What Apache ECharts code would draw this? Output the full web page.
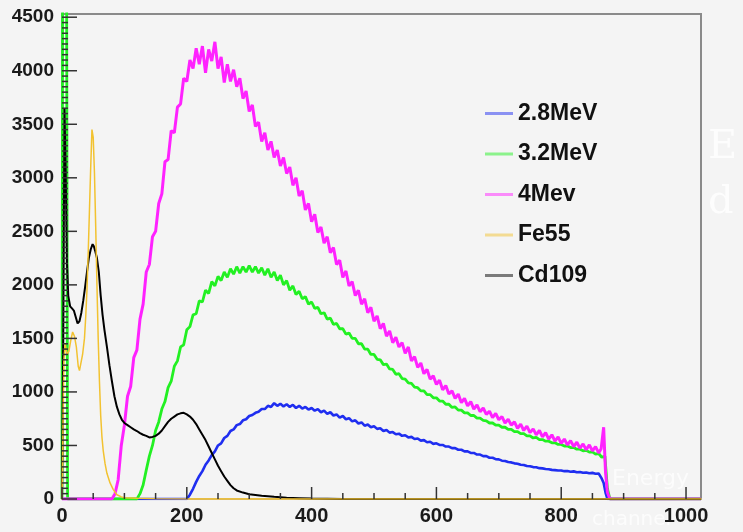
<!DOCTYPE html>
<html><head><meta charset="utf-8">
<script src="https://cdn.jsdelivr.net/npm/echarts@6/dist/echarts.min.js"></script>
<style>html,body{margin:0;padding:0;background:#f4f4f4}#c{width:743px;height:532px}</style>
</head><body><div id="c"></div>
<script>
const seriesNames = ['2.8MeV', '3.2MeV', '4Mev', 'Fe55', 'Cd109'];
const xTicks = [0, 200, 400, 600, 800, 1000];
const yTicks = [0, 500, 1000, 1500, 2000, 2500, 3000, 3500, 4000, 4500];

const mev28 = [[0,0],[200,0],[205,40],[210,95],[215,160],[220,215],[225,260],[230,320],[235,360],[240,410],[245,445],[250,500],[255,520],[260,570],[265,590],[270,635],[275,650],[280,690],[285,700],[290,735],[295,745],[300,775],[305,785],[310,805],[315,815],[320,840],[325,840],[330,870],[335,860],[340,895],[345,870],[350,890],[355,865],[360,885],[365,860],[370,880],[375,850],[380,870],[385,845],[390,860],[395,835],[400,850],[405,825],[410,840],[415,810],[420,825],[425,795],[430,810],[435,780],[440,790],[445,760],[450,775],[455,745],[460,755],[465,725],[470,735],[475,705],[480,715],[485,685],[490,695],[495,670],[500,680],[505,655],[510,660],[515,635],[520,645],[525,620],[530,625],[535,605],[540,610],[545,590],[550,595],[555,575],[560,580],[565,560],[570,565],[575,545],[580,550],[585,530],[590,535],[595,515],[600,520],[605,505],[610,505],[615,490],[620,490],[625,475],[630,475],[635,460],[640,460],[645,445],[650,445],[655,430],[660,430],[665,415],[670,415],[675,400],[680,400],[685,385],[690,385],[695,372],[700,370],[705,358],[710,355],[715,345],[720,342],[725,333],[730,330],[735,320],[740,318],[745,308],[750,306],[755,298],[760,296],[765,288],[770,286],[775,280],[780,278],[785,272],[790,270],[795,266],[800,266],[805,260],[810,262],[815,255],[820,258],[825,250],[830,252],[835,245],[840,248],[845,240],[850,244],[855,236],[860,238],[865,190],[868,150],[871,60],[874,0],[1024,0]];

const mev32 = [[0,0],[1,5000],[3,9000],[5,9000],[7,6000],[9,0],[120,0],[125,50],[130,130],[135,270],[140,400],[145,500],[150,640],[155,720],[160,840],[165,910],[170,1040],[175,1100],[180,1240],[185,1290],[190,1420],[195,1440],[200,1580],[205,1610],[210,1720],[215,1730],[220,1850],[225,1840],[230,1950],[235,1920],[240,2030],[245,1990],[250,2080],[255,2040],[260,2120],[265,2070],[270,2150],[275,2100],[280,2170],[285,2110],[290,2170],[295,2120],[300,2180],[305,2120],[310,2170],[315,2110],[320,2160],[325,2090],[330,2150],[335,2070],[340,2120],[345,2040],[350,2090],[355,2000],[360,2040],[365,1950],[370,1990],[375,1910],[380,1940],[385,1870],[390,1890],[395,1820],[400,1840],[405,1780],[410,1790],[415,1730],[420,1740],[425,1680],[430,1690],[435,1630],[440,1640],[445,1590],[450,1590],[455,1540],[460,1550],[465,1500],[470,1500],[475,1450],[480,1450],[485,1400],[490,1400],[495,1350],[500,1350],[505,1305],[510,1300],[515,1255],[520,1260],[525,1215],[530,1210],[535,1165],[540,1170],[545,1125],[550,1120],[555,1085],[560,1080],[565,1045],[570,1040],[575,1010],[580,1010],[585,975],[590,975],[595,945],[600,945],[605,915],[610,915],[615,885],[620,885],[625,855],[630,860],[635,830],[640,830],[645,805],[650,805],[655,780],[660,780],[665,755],[670,755],[675,735],[680,730],[685,710],[690,710],[695,690],[700,690],[705,670],[710,670],[715,650],[720,650],[725,630],[730,630],[735,610],[740,610],[745,590],[750,590],[755,570],[760,575],[765,555],[770,555],[775,540],[780,540],[785,525],[790,525],[795,510],[800,510],[805,495],[810,495],[815,480],[820,480],[825,465],[830,465],[835,450],[840,455],[845,438],[850,440],[855,420],[860,425],[865,390],[870,400],[874,100],[878,0],[1024,0]];

const mev4 = [[0,0],[80,0],[85,50],[90,180],[95,500],[100,690],[105,960],[110,1050],[115,1320],[120,1390],[125,1680],[130,1820],[135,2120],[140,2190],[145,2450],[150,2500],[155,2760],[160,2850],[165,3150],[170,3170],[175,3440],[180,3420],[185,3660],[190,3690],[195,3930],[200,3900],[205,4100],[210,4020],[215,4210],[220,4060],[225,4230],[230,3980],[235,4200],[240,4090],[245,4270],[250,4020],[255,4130],[260,3890],[265,4060],[270,3900],[275,4010],[280,3850],[285,3930],[290,3740],[295,3810],[300,3620],[305,3680],[310,3480],[315,3520],[320,3340],[325,3420],[330,3260],[335,3340],[340,3190],[345,3260],[350,3110],[355,3190],[360,3040],[365,3100],[370,2930],[375,3000],[380,2830],[385,2880],[390,2700],[395,2760],[400,2590],[405,2660],[410,2490],[415,2540],[420,2390],[425,2450],[430,2300],[435,2350],[440,2190],[445,2230],[450,2070],[455,2130],[460,1990],[465,2030],[470,1900],[475,1950],[480,1820],[485,1870],[490,1740],[495,1790],[500,1660],[505,1710],[510,1590],[515,1640],[520,1520],[525,1570],[530,1460],[535,1510],[540,1420],[545,1460],[550,1360],[555,1420],[560,1290],[565,1330],[570,1230],[575,1270],[580,1170],[585,1210],[590,1120],[595,1150],[600,1070],[605,1110],[610,1020],[615,1060],[620,980],[625,1010],[630,940],[635,980],[640,900],[645,940],[650,870],[655,910],[660,840],[665,880],[670,815],[675,850],[680,790],[685,820],[690,760],[695,800],[700,740],[705,770],[710,710],[715,745],[720,690],[725,720],[730,660],[735,700],[740,640],[745,680],[750,620],[755,655],[760,600],[765,640],[770,580],[775,620],[780,560],[785,600],[790,540],[795,580],[800,520],[805,560],[810,505],[815,545],[820,490],[825,530],[830,475],[835,515],[840,460],[845,505],[850,450],[855,490],[860,430],[864,470],[868,670],[871,250],[874,60],[878,0],[1024,0]];

const fe55 = [[0,0],[1,400],[2,900],[3,1300],[5,1450],[8,1350],[11,1380],[14,1480],[17,1560],[20,1520],[23,1420],[26,1240],[28,1200],[30,1260],[33,1350],[36,1500],[38,1700],[40,1950],[42,2300],[44,2700],[46,3100],[48,3450],[50,3380],[52,3050],[54,2550],[56,2000],[58,1500],[60,1100],[62,780],[64,580],[66,455],[69,330],[72,240],[77,150],[82,90],[88,40],[95,20],[100,12],[120,6],[150,3],[200,0],[1024,0]];

const cd109 = [[0,0],[2,1500],[4,3650],[6,3000],[8,2200],[10,1900],[13,1800],[16,1780],[19,1760],[22,1700],[25,1640],[28,1660],[31,1740],[34,1850],[37,1980],[40,2120],[43,2250],[46,2330],[49,2380],[51,2360],[53,2320],[56,2250],[59,2120],[62,1900],[65,1720],[68,1580],[72,1420],[76,1250],[80,1100],[84,960],[88,860],[92,790],[96,740],[100,710],[105,690],[110,670],[115,650],[120,635],[125,615],[130,600],[135,590],[140,575],[145,580],[150,590],[155,610],[160,640],[165,680],[170,720],[175,750],[180,770],[185,790],[190,800],[195,805],[200,790],[205,770],[210,740],[215,700],[220,650],[225,600],[230,550],[235,490],[240,430],[245,370],[250,310],[255,260],[260,210],[265,170],[270,130],[275,100],[280,80],[290,60],[300,45],[320,30],[340,20],[360,12],[380,8],[400,4],[450,1],[500,0],[1024,0]];

const seriesData = [mev28, mev32, mev4, fe55, cd109];
const seriesColors = ['#1f2ef0', '#22f022', '#ff22ff', '#f2c230', '#000000'];
const seriesWidths = [2.6, 2.8, 3, 1.5, 2];
const drawOrder = [0, 1, 2, 4, 3];

const xMax = 1024, yMax = 4530;
const xMinorStep = 50, yMinorStep = 50;
const font = 'Liberation Sans, Arial, sans-serif';
const W = 743, H = 532, gl = 62, gr = 42, gt = 14, gb = 33;

const chart = echarts.init(document.getElementById('c'), null, {renderer: 'canvas'});

chart.setOption({
  backgroundColor: '#f4f4f4',
  animation: false,
  grid: {left: gl, right: gr, top: gt, bottom: gb, show: true, borderColor: '#8a8a8a', borderWidth: 2, backgroundColor: 'transparent'},
  legend: {
    data: seriesNames, orient: 'vertical', left: 480, top: 97, itemGap: 17.5,
    itemWidth: 28, itemHeight: 3, icon: 'rect',
    itemStyle: {opacity: 0.5},
    textStyle: {fontFamily: font, fontSize: 23, fontWeight: 'bold', color: '#111'}
  },
  xAxis: {
    type: 'value', min: 0, max: xMax, interval: 200, splitLine: {show: false},
    axisLine: {show: true, lineStyle: {color: '#c9b27a', width: 2}},
    axisTick: {show: false},
    axisLabel: {fontFamily: font, fontSize: 20, fontWeight: 'bold', color: '#1a1a1a', margin: 7,
      formatter: v => xTicks.indexOf(v) >= 0 ? String(v) : ''}
  },
  yAxis: {
    type: 'value', min: 0, max: yMax, interval: 500, splitLine: {show: false},
    axisLine: {show: true, lineStyle: {color: '#8a8a8a', width: 2}},
    axisTick: {show: false},
    axisLabel: {fontFamily: font, fontSize: 19, fontWeight: 'bold', color: '#1a1a1a', margin: 8,
      formatter: v => yTicks.indexOf(v) >= 0 ? String(v) : ''}
  },
  series: drawOrder.map(i => ({
    name: seriesNames[i], type: 'line', data: seriesData[i],
    showSymbol: false, symbol: 'none', clip: true, smooth: false,
    lineStyle: {color: seriesColors[i], width: seriesWidths[i]},
    itemStyle: {color: seriesColors[i]},
    emphasis: {disabled: true}, z: 2
  }))
});

// pixel positions of axis values, taken from the chart's own scales
function toPx(x, y) {
  let p = null;
  try { p = chart.convertToPixel({gridIndex: 0}, [x, y]); } catch (e) { p = null; }
  if (!p || !isFinite(p[0]) || !isFinite(p[1])) {
    p = [gl + x / xMax * (W - gl - gr), H - gb - y / yMax * (H - gt - gb)];
  }
  return p;
}

const tickColor = '#333', tickW = 1.5;
const g = [];
for (let v = 0; v <= 1000; v += xMinorStep) {
  const len = xTicks.indexOf(v) >= 0 ? 12 : 6;
  const p = toPx(v, 0);
  g.push({type: 'rect', z: 20, silent: true, shape: {x: p[0] - tickW / 2, y: p[1] - len, width: tickW, height: len}, style: {fill: tickColor}});
}
for (let v = 0; v <= 4500; v += yMinorStep) {
  const len = yTicks.indexOf(v) >= 0 ? 15 : 6;
  const p = toPx(0, v);
  g.push({type: 'rect', z: 20, silent: true, shape: {x: p[0], y: p[1] - tickW / 2, width: len, height: tickW}, style: {fill: tickColor}});
}
g.push(
  {type: 'text', left: 708, top: 128, style: {text: 'E', font: '40px DejaVu Serif', fill: '#ffffff', opacity: 0.8}},
  {type: 'text', left: 708, top: 183, style: {text: 'd', font: '40px DejaVu Serif', fill: '#ffffff', opacity: 0.8}},
  {type: 'text', left: 612, top: 468, style: {text: 'Energy', font: '22px DejaVu Sans', fill: '#ffffff', opacity: 0.7}},
  {type: 'text', left: 592, top: 510, style: {text: 'channel', font: '20px DejaVu Sans', fill: '#ffffff', opacity: 0.7}}
);
chart.setOption({graphic: {elements: g}});
</script></body></html>
